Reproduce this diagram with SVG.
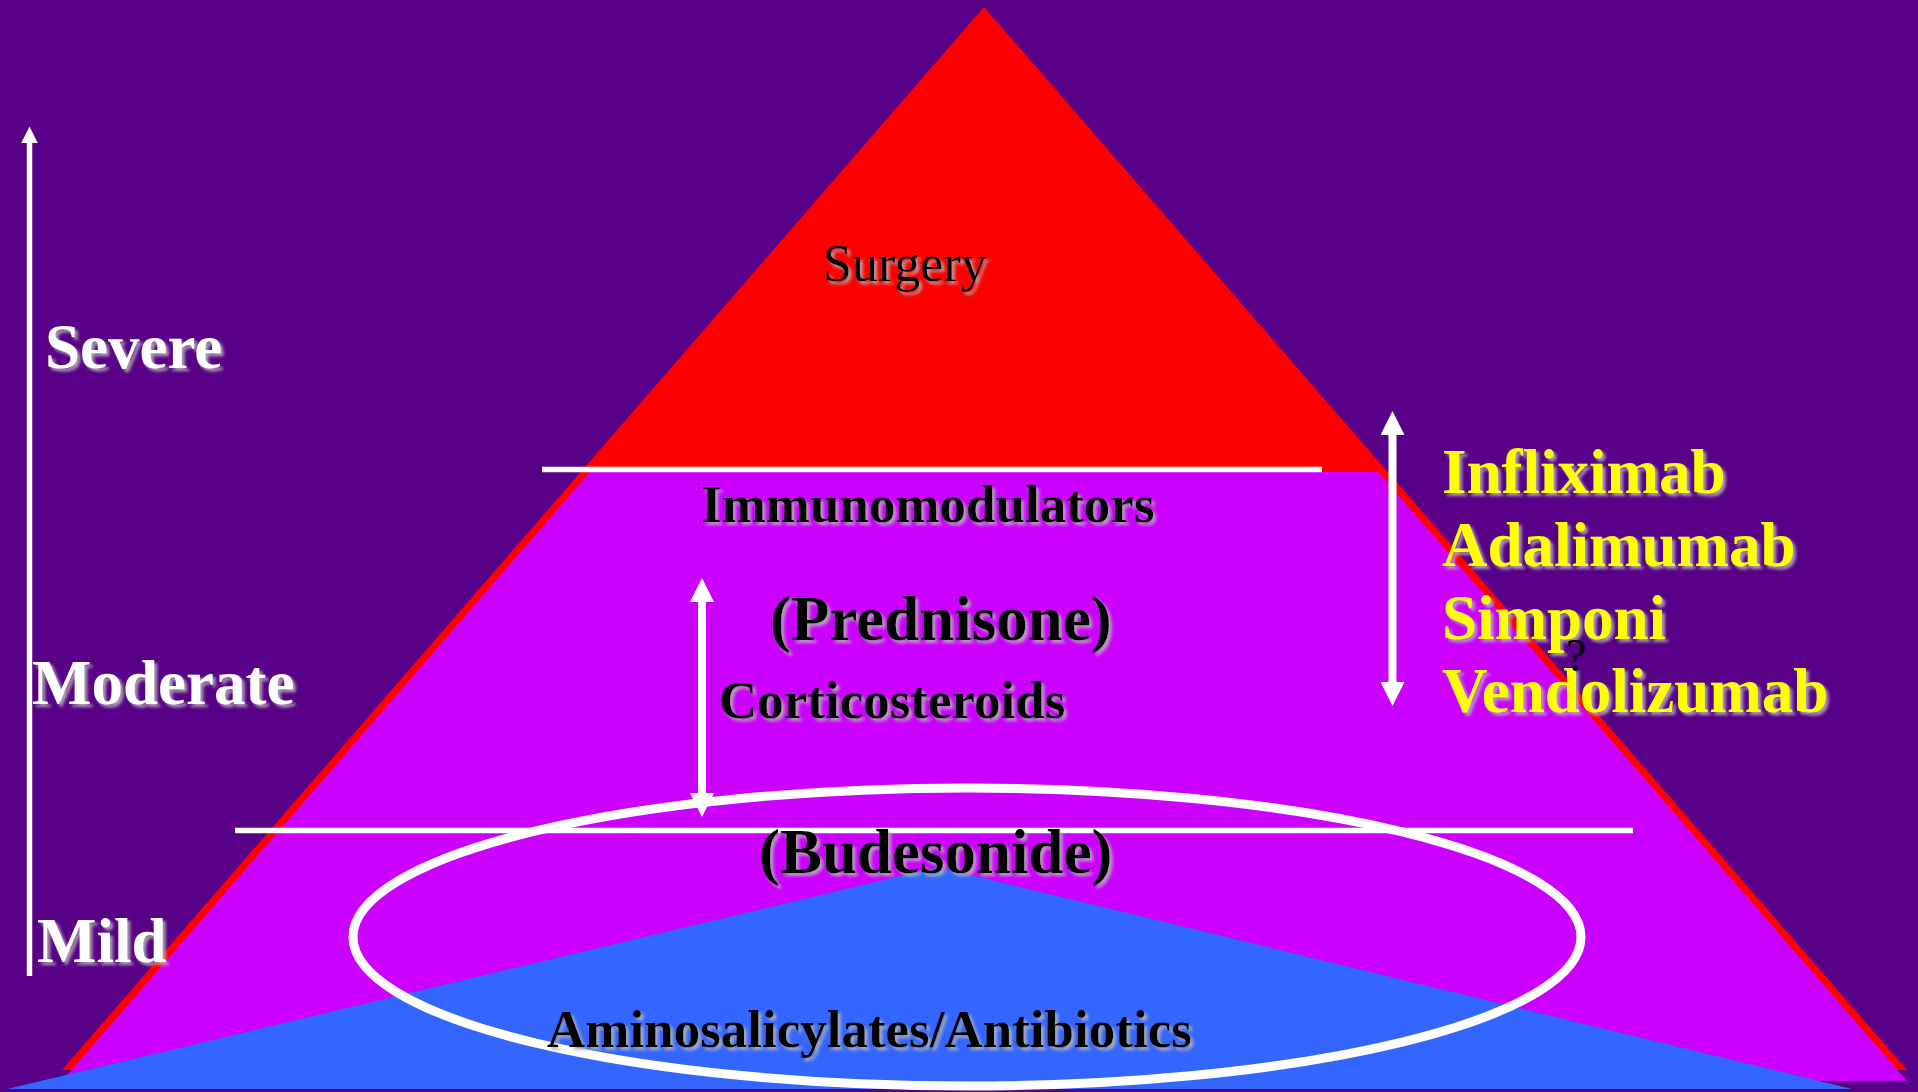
<svg xmlns="http://www.w3.org/2000/svg" width="1918" height="1092" viewBox="0 0 1918 1092">
<style>
.t{font-family:"Liberation Serif","Times New Roman",serif;font-weight:bold;}
.blk{fill:#000000;}
.wht{fill:#ffffff;}
.yel{fill:#ffff00;}
.wl{stroke:#ffffff;fill:none;}
</style>
<defs>
<filter id="sh" x="-5%" y="-25%" width="115%" height="160%">
<feGaussianBlur in="SourceAlpha" stdDeviation="1.6"/>
<feOffset dx="3" dy="3" result="b"/>
<feFlood flood-color="#b4b4b4" flood-opacity="0.85"/>
<feComposite in2="b" operator="in"/>
<feMerge><feMergeNode/><feMergeNode in="SourceGraphic"/></feMerge>
</filter>
<marker id="ah" viewBox="0 0 3 3" markerWidth="3" markerHeight="3" refX="0" refY="1.5" orient="auto-start-reverse" markerUnits="strokeWidth">
<path d="M0,0 L3,1.5 L0,3 z" fill="#ffffff"/>
</marker>
</defs>
<rect width="1918" height="1092" fill="#580087"/>
<g id="pyramid">
<polygon id="surgery-tier" points="984,7 1907,1070 62,1070" fill="#ff0000"/>
<polygon id="middle-tier" points="590,472 1378,472 1907,1081 62,1081" fill="#cc00ff"/>
<polygon id="base-tier" points="938,867 1852,1089 7,1089" fill="#3366ff"/>
</g>
<g id="connectors">
<line class="wl" x1="542" y1="469.5" x2="1322" y2="469.5" stroke-width="5.5"/>
<line class="wl" x1="235" y1="830.5" x2="1633" y2="830.5" stroke-width="5.5"/>
<ellipse class="wl" cx="967" cy="937" rx="614" ry="149" stroke-width="9"/>
<line class="wl" x1="29.5" y1="143" x2="29.5" y2="976" stroke-width="5.5" marker-start="url(#ah)"/>
<line class="wl" x1="702" y1="602" x2="702" y2="793" stroke-width="8" marker-start="url(#ah)" marker-end="url(#ah)"/>
<line class="wl" x1="1392.5" y1="435" x2="1392.5" y2="682" stroke-width="8" marker-start="url(#ah)" marker-end="url(#ah)"/>
</g>
<g id="severity-labels" filter="url(#sh)">
<text class="t wht" x="45" y="368" font-size="63">Severe</text>
<text class="t wht" x="32" y="704" font-size="63">Moderate</text>
<text class="t wht" x="37" y="962" font-size="63">Mild</text>
</g>
<g id="node-surgery" filter="url(#sh)">
<text class="blk" x="823" y="281" font-size="52" font-family="Liberation Serif, Times New Roman, serif">Surgery</text>
</g>
<g id="node-immunomodulators" filter="url(#sh)">
<text class="t blk" x="701" y="522" font-size="53">Immunomodulators</text>
</g>
<g id="node-corticosteroids" filter="url(#sh)">
<text class="t blk" x="770" y="640" font-size="63">(Prednisone)</text>
<text class="t blk" x="719" y="718" font-size="53">Corticosteroids</text>
<text class="t blk" x="759" y="873" font-size="63">(Budesonide)</text>
</g>
<g id="node-aminosalicylates" filter="url(#sh)">
<text class="t blk" x="547" y="1047" font-size="53">Aminosalicylates/Antibiotics</text>
</g>
<g id="node-biologics" filter="url(#sh)">
<text class="t yel" x="1442" y="493" font-size="63">Infliximab</text>
<text class="t yel" x="1442" y="566" font-size="63">Adalimumab</text>
<text class="t yel" x="1442" y="639" font-size="63">Simponi</text>
<text class="t yel" x="1442" y="712" font-size="63">Vendolizumab</text>
</g>
<text x="1566" y="671" font-size="46" fill="#000000" font-family="Liberation Serif, Times New Roman, serif">?</text>
</svg>
